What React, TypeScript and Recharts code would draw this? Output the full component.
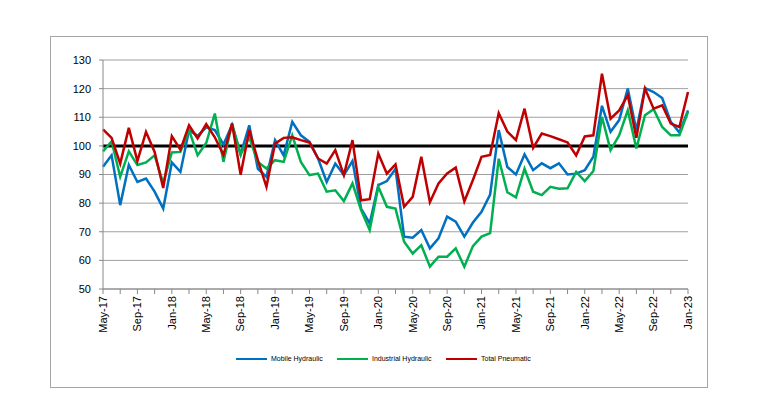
import React from 'react';
import { LineChart, Line, XAxis, YAxis, CartesianGrid, ReferenceLine, Legend } from 'recharts';

const months = [
  'May-17','Jun-17','Jul-17','Aug-17','Sep-17','Oct-17','Nov-17','Dec-17',
  'Jan-18','Feb-18','Mar-18','Apr-18','May-18','Jun-18','Jul-18','Aug-18','Sep-18','Oct-18','Nov-18','Dec-18',
  'Jan-19','Feb-19','Mar-19','Apr-19','May-19','Jun-19','Jul-19','Aug-19','Sep-19','Oct-19','Nov-19','Dec-19',
  'Jan-20','Feb-20','Mar-20','Apr-20','May-20','Jun-20','Jul-20','Aug-20','Sep-20','Oct-20','Nov-20','Dec-20',
  'Jan-21','Feb-21','Mar-21','Apr-21','May-21','Jun-21','Jul-21','Aug-21','Sep-21','Oct-21','Nov-21','Dec-21',
  'Jan-22','Feb-22','Mar-22','Apr-22','May-22','Jun-22','Jul-22','Aug-22','Sep-22','Oct-22','Nov-22','Dec-22',
  'Jan-23',
];

const xTickLabels = [
  'May-17','Sep-17','Jan-18','May-18','Sep-18','Jan-19','May-19','Sep-19','Jan-20',
  'May-20','Sep-20','Jan-21','May-21','Sep-21','Jan-22','May-22','Sep-22','Jan-23',
];

const yTicks = [50, 60, 70, 80, 90, 100, 110, 120, 130];

const mobileHydraulic = [
  92.7, 96.7, 79.3, 93.3, 87.4, 88.6, 84, 78.1,
  94.2, 90.9, 105.5, 103.5, 106.5, 105.5, 100.5, 107.3, 97, 107.2, 92, 89.2,
  102, 96.7, 108.4, 103.7, 101.4, 95.6, 87.4, 93.8, 89.8, 94.7, 78.1, 72.9,
  86.3, 87.7, 92, 68.3, 67.9, 70.6, 64.2, 67.7, 75.3, 73.5, 68.3, 73.2,
  77, 83, 105.5, 92.6, 90, 97, 91.5, 93.9, 92.2, 93.9, 90, 90.3,
  91.5, 96.2, 114, 104.9, 109, 120, 105.5, 120.2, 118.8, 116.7, 108.4, 104.7,
  112.4,
];

const industrialHydraulic = [
  98.1, 101.6, 89.2, 98.1, 93.3, 94.2, 96.7, 87,
  97.7, 97.9, 105.5, 96.7, 101, 111.3, 94.4, 107.8, 97, 103, 94.4, 92.1,
  95, 94.4, 103.7, 94.4, 89.8, 90.3, 84, 84.5, 80.7, 86.9, 77.6, 70.6,
  85.7, 78.7, 78.1, 66.5, 62.4, 65.3, 57.8, 61.3, 61.3, 64.2, 57.8, 65,
  68.3, 69.5, 95.5, 83.8, 82, 92, 84, 82.8, 85.7, 85, 85.2, 90.9,
  87.7, 91.2, 110.1, 98.5, 103.7, 112.4, 99.1, 110.7, 112.8, 106.6, 103.7, 103.7,
  111.9,
];

const totalPneumatic = [
  105.8, 102.8, 93.8, 106.3, 94.7, 104.9, 97.9, 85.3,
  103.4, 98.7, 107.2, 102.6, 107.6, 103, 96.8, 107.8, 89.9, 105.5, 95, 85.7,
  100.8, 102.8, 103, 102, 101.2, 95.6, 93.8, 98.5, 89.8, 102, 81, 81.4,
  97.3, 90.3, 93.5, 78.7, 82.2, 96.2, 80.3, 86.9, 90.4, 92.4, 80.6, 88.1,
  96.2, 96.8, 111.4, 105, 102, 113, 99.3, 104.3, 103.4, 102.3, 101.2, 96.7,
  103.3, 103.7, 125.2, 109.5, 112.4, 117.7, 102.8, 120, 113, 114.2, 107.8, 106.6,
  118.8,
];

const seriesNames = ['Mobile Hydraulic', 'Industrial Hydraulic', 'Total Pneumatic'];
const seriesColors = ['#0070C0', '#00B050', '#C00000'];

const data = months.map((m, i) => ({
  month: m,
  mobile: mobileHydraulic[i],
  industrial: industrialHydraulic[i],
  pneumatic: totalPneumatic[i],
}));

const FONT = '"Liberation Sans", Arial, sans-serif';

const XTick = (props: any) => {
  const { x, y, payload } = props;
  if (!xTickLabels.includes(payload.value)) return null;
  return (
    <text
      x={x}
      y={y}
      transform={`rotate(-90, ${x}, ${y})`}
      textAnchor="end"
      dy="0.35em"
      fontSize={11}
      fontFamily={FONT}
      fill="#000"
    >
      {payload.value}
    </text>
  );
};

const LegendContent = () => (
  <div style={{ position: 'relative', width: 783, height: 14, fontFamily: FONT, fontSize: 7, color: '#000' }}>
    {seriesNames.map((name, i) => {
      const lefts = [236, 337, 446];
      return (
        <div key={name} style={{ position: 'absolute', left: lefts[i], top: 0, display: 'flex', alignItems: 'center', whiteSpace: 'nowrap' }}>
          <div style={{ width: 31, height: 2, background: seriesColors[i], marginRight: 4 }} />
          <span>{name}</span>
        </div>
      );
    })}
  </div>
);

export default function App() {
  return (
    <div style={{ position: 'relative', width: 783, height: 397, marginLeft: -8, marginTop: -8, background: '#fff' }}>
      <div
        style={{
          position: 'absolute',
          left: 50,
          top: 36,
          width: 658,
          height: 352,
          border: '1px solid #a6a6a6',
          boxSizing: 'border-box',
        }}
      />
      <div style={{ position: 'absolute', left: 0, top: 0 }}>
        <LineChart
          width={783}
          height={397}
          data={data}
          margin={{ top: 60, right: 95, bottom: 44, left: 63 }}
        >
          <CartesianGrid vertical={false} stroke="#a0a0a0" strokeWidth={1} />
          <XAxis
            dataKey="month"
            scale="point"
            padding={{ left: 0, right: 0 }}
            interval={1}
            tick={<XTick />}
            tickSize={5}
            tickMargin={2}
            height={50}
            stroke="#888"
            axisLine={{ stroke: '#888' }}
            tickLine={{ stroke: '#888' }}
          />
          <YAxis
            domain={[50, 130]}
            ticks={yTicks}
            width={40}
            tickSize={4}
            tickMargin={8}
            tick={{ fontSize: 11, fontFamily: FONT, fill: '#000' }}
            axisLine={{ stroke: '#888' }}
            tickLine={{ stroke: '#888' }}
            interval={0}
          />
          <ReferenceLine y={100} stroke="#000" strokeWidth={3} />
          <Line type="linear" dataKey="mobile" name={seriesNames[0]} stroke={seriesColors[0]} strokeWidth={2.5} dot={false} isAnimationActive={false} />
          <Line type="linear" dataKey="industrial" name={seriesNames[1]} stroke={seriesColors[1]} strokeWidth={2.5} dot={false} isAnimationActive={false} />
          <Line type="linear" dataKey="pneumatic" name={seriesNames[2]} stroke={seriesColors[2]} strokeWidth={2.5} dot={false} isAnimationActive={false} />
          <Legend
            content={<LegendContent />}
            wrapperStyle={{ position: 'absolute', left: 0, top: 355, width: 783, height: 14 }}
          />
        </LineChart>
      </div>
    </div>
  );
}
